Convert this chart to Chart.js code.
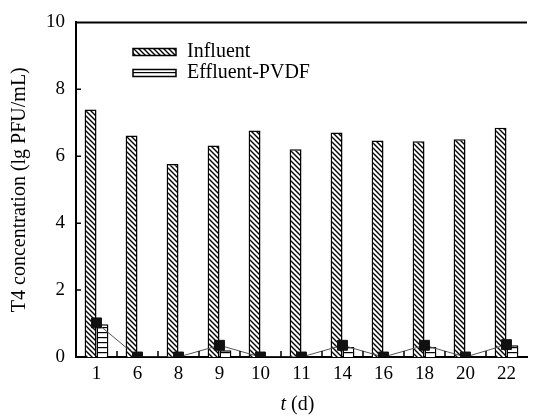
<!DOCTYPE html>
<html>
<head>
<meta charset="utf-8">
<script src="https://cdn.jsdelivr.net/npm/chart.js@4.4.0/dist/chart.umd.min.js"></script>
<style>
  html, body { margin: 0; padding: 0; background: #fff; }
  #wrap { width: 535px; height: 416px; }
</style>
</head>
<body>
<div id="wrap"><canvas id="t4Chart" width="535" height="416"></canvas></div>
<script>
const ctx_t4 = 't4Chart';

var days = ["1", "6", "8", "9", "10", "11", "14", "16", "18", "20", "22"];
var influent = [7.4, 6.62, 5.77, 6.32, 6.77, 6.21, 6.71, 6.47, 6.45, 6.51, 6.85];
var effluentBars = [0.98, 0, 0, 0.2, 0, 0, 0.3, 0, 0.3, 0, 0.35];
var effluentPoints = [1.02, 0, 0, 0.35, 0, 0, 0.35, 0, 0.35, 0, 0.37];
var yTicks = [0, 2, 4, 6, 8, 10];

const serif = "'Liberation Serif', 'Times New Roman', serif";

// hatch fills
function diagPattern() {
    const c = document.createElement('canvas');
    c.width = 5; c.height = 5;
    const g = c.getContext('2d');
    g.fillStyle = '#fff';
    g.fillRect(0, 0, 5, 5);
    g.strokeStyle = '#000';
    g.lineWidth = 1.4;
    g.beginPath();
    g.moveTo(-1, -1); g.lineTo(6, 6);
    g.moveTo(-1, 4); g.lineTo(1, 6);
    g.moveTo(4, -1); g.lineTo(6, 1);
    g.stroke();
    return g.createPattern(c, 'repeat');
}

function horizPattern() {
    const c = document.createElement('canvas');
    c.width = 4; c.height = 5;
    const g = c.getContext('2d');
    g.fillStyle = '#fff';
    g.fillRect(0, 0, 4, 5);
    g.fillStyle = '#000';
    g.fillRect(0, 2, 4, 1.2);
    return g.createPattern(c, 'repeat');
}

const influentFill = diagPattern();
const effluentFill = horizPattern();

const framePlugin = {
    id: 'frame',
    afterDraw(chart) {
        const c = chart.ctx;
        const a = chart.chartArea;
        const x = chart.scales.x;
        const y = chart.scales.y;
        c.save();
        c.strokeStyle = '#000';
        c.lineWidth = 2;
        // top border
        c.beginPath();
        c.moveTo(a.left - 1, a.top);
        c.lineTo(a.right, a.top);
        c.stroke();
        // inner ticks
        c.lineWidth = 1.5;
        c.beginPath();
        yTicks.forEach(function (v) {
            if (v === 0 || v === 10) return;
            const py = y.getPixelForValue(v);
            c.moveTo(a.left, py);
            c.lineTo(a.left + 5, py);
        });
        for (let i = 0; i < days.length - 1; i++) {
            const px = (x.getPixelForValue(i) + x.getPixelForValue(i + 1)) / 2;
            c.moveTo(px, a.bottom);
            c.lineTo(px, a.bottom - 6);
        }
        c.stroke();

        // legend
        const items = [
            { fill: influentFill, label: chart.data.datasets[0].label, y: 52 },
            { fill: effluentFill, label: chart.data.datasets[1].label, y: 73 }
        ];
        c.font = '20px ' + serif;
        c.textBaseline = 'middle';
        items.forEach(function (it) {
            c.fillStyle = it.fill;
            c.fillRect(133, it.y - 3.5, 43, 7);
            c.lineWidth = 1.5;
            c.strokeRect(133, it.y - 3.5, 43, 7);
            c.fillStyle = '#000';
            c.fillText(it.label, 187, it.y);
        });

        // x title, italic t
        const cx = (a.left + a.right) / 2 - 4;
        c.textAlign = 'left';
        c.font = 'italic 20px ' + serif;
        const w1 = c.measureText('t').width;
        c.font = '20px ' + serif;
        const w2 = c.measureText(' (d)').width;
        const sx = cx - (w1 + w2) / 2;
        c.font = 'italic 20px ' + serif;
        c.fillText('t', sx, 405);
        c.font = '20px ' + serif;
        c.fillText(' (d)', sx + w1, 405);
        c.restore();
    }
};

const t4Chart = new Chart(ctx_t4, {
    type: 'bar',
    data: {
        labels: days,
        datasets: [{
            label: 'Influent',
            data: influent,
            backgroundColor: influentFill,
            borderColor: '#000',
            borderWidth: 1.5,
            categoryPercentage: 0.58,
            barPercentage: 1.0,
            order: 2
        }, {
            label: 'Effluent-PVDF',
            data: effluentBars,
            backgroundColor: effluentFill,
            borderColor: '#000',
            borderWidth: 1.5,
            categoryPercentage: 0.58,
            barPercentage: 1.0,
            order: 2
        }, {
            type: 'line',
            label: 'Effluent-PVDF points',
            data: effluentPoints,
            borderColor: '#555',
            borderWidth: 1,
            pointStyle: 'rect',
            pointRadius: 7,
            pointBackgroundColor: '#111',
            pointBorderColor: '#111',
            tension: 0,
            order: 1
        }]
    },
    options: {
        responsive: false,
        animation: false,
        layout: {
            padding: { left: 0, right: 0, top: 22, bottom: 0 }
        },
        plugins: {
            legend: { display: false },
            tooltip: { enabled: false },
            title: { display: false }
        },
        scales: {
            x: {
                offset: true,
                grid: { display: false, drawTicks: false },
                border: { display: true, color: '#000', width: 2 },
                ticks: {
                    color: '#000',
                    font: { family: serif, size: 19 },
                    padding: 6,
                    maxRotation: 0,
                    autoSkip: false
                },
                afterFit: function (scale) { scale.height = 59; }
            },
            y: {
                min: 0,
                max: 10,
                grid: { display: false, drawTicks: false },
                border: { display: true, color: '#000', width: 2 },
                ticks: {
                    stepSize: 2,
                    color: '#000',
                    font: { family: serif, size: 19 },
                    padding: 11
                },
                title: {
                    display: true,
                    text: 'T4 concentration (lg PFU/mL)',
                    color: '#000',
                    font: { family: serif, size: 20 },
                    padding: { top: 8, bottom: 0 }
                },
                afterFit: function (scale) { scale.width = 76; }
            }
        }
    },
    plugins: [framePlugin]
});
</script>
</body>
</html>
